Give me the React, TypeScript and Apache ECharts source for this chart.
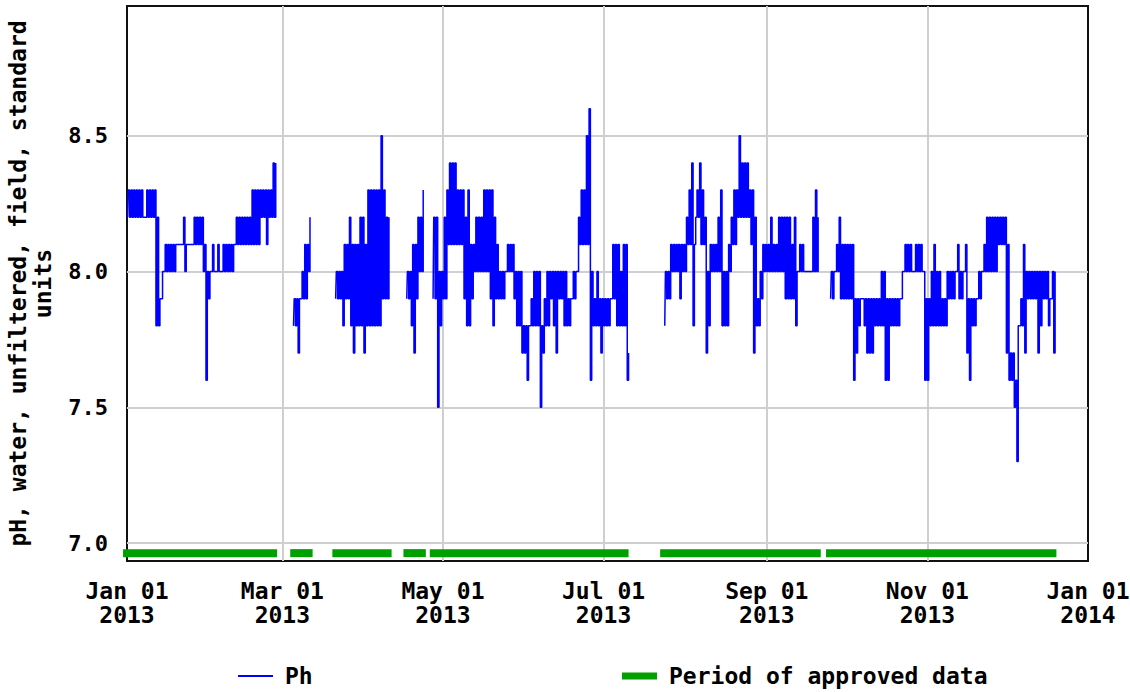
import React, { useEffect, useRef } from 'react';
import * as echarts from 'echarts';

// X axis: days since 2013-01-01
const tickDays = [0, 59, 120, 181, 243, 304, 365];
const tickLabels = ['Jan 01\n2013', 'Mar 01\n2013', 'May 01\n2013', 'Jul 01\n2013', 'Sep 01\n2013', 'Nov 01\n2013', 'Jan 01\n2014'];
const yTicks = [7.0, 7.5, 8.0, 8.5];

// Daily low / high pH readings, one pair per day, per continuous record segment
const janFebStart = 0;
const janFebLow = [8.2, 8.2, 8.2, 8.2, 8.2, 8.2, 8.2, 8.2, 8.2, 8.2, 8.2, 7.8, 7.8, 7.9, 8.0, 8.0, 8.0, 8.0, 8.0, 8.1, 8.1, 8.1, 8.0, 8.1, 8.1, 8.1, 8.1, 8.1, 8.1, 8.0, 7.6, 7.9, 8.0, 8.0, 8.0, 8.0, 8.0, 8.0, 8.0, 8.0, 8.0, 8.1, 8.1, 8.1, 8.1, 8.1, 8.1, 8.1, 8.1, 8.1, 8.1, 8.2, 8.2, 8.1, 8.2, 8.2, 8.2];
const janFebHigh = [8.3, 8.3, 8.3, 8.3, 8.3, 8.3, 8.2, 8.3, 8.3, 8.3, 8.3, 8.2, 7.9, 8.0, 8.1, 8.1, 8.1, 8.1, 8.1, 8.1, 8.1, 8.2, 8.1, 8.1, 8.1, 8.2, 8.2, 8.2, 8.2, 8.1, 8.0, 8.0, 8.1, 8.0, 8.1, 8.0, 8.1, 8.1, 8.1, 8.1, 8.1, 8.2, 8.2, 8.2, 8.2, 8.2, 8.2, 8.3, 8.3, 8.3, 8.3, 8.3, 8.3, 8.3, 8.3, 8.4, 8.4];

const marStart = 63;
const marLow = [7.8, 7.8, 7.7, 7.9, 7.9, 7.9, 8.0];
const marHigh = [7.9, 7.9, 7.9, 8.0, 8.1, 8.1, 8.2];

const marAprStart = 79;
const marAprLow = [7.9, 7.9, 7.9, 7.8, 7.9, 7.9, 7.8, 7.7, 7.8, 7.8, 7.8, 7.7, 7.8, 7.8, 7.8, 7.8, 7.8, 7.8, 7.9, 7.9, 7.9];
const marAprHigh = [8.0, 8.0, 8.0, 8.1, 8.1, 8.2, 8.1, 8.1, 8.1, 8.2, 8.2, 8.1, 8.3, 8.3, 8.3, 8.3, 8.3, 8.5, 8.3, 8.2, 8.2];

const aprStart = 106;
const aprLow = [7.9, 7.9, 7.8, 7.7, 7.9, 8.0, 8.0];
const aprHigh = [8.0, 8.0, 8.1, 8.1, 8.2, 8.2, 8.3];

const mayJulStart = 116;
const mayJulLow = [7.9, 7.9, 7.5, 7.8, 7.9, 7.9, 8.1, 8.1, 8.1, 8.1, 8.1, 8.1, 7.9, 7.8, 7.8, 7.9, 8.0, 8.0, 8.0, 8.0, 8.0, 8.0, 7.9, 7.8, 7.9, 7.9, 7.9, 7.9, 8.0, 8.0, 8.0, 7.9, 7.8, 7.8, 7.7, 7.7, 7.6, 7.8, 7.8, 7.8, 7.8, 7.5, 7.7, 7.8, 7.8, 7.9, 7.8, 7.7, 7.9, 7.9, 7.8, 7.8, 7.8, 7.9, 7.9, 8.0, 8.1, 8.1, 8.1, 8.1, 7.6, 7.8, 7.8, 7.8, 7.7, 7.8, 7.8, 7.8, 7.9, 7.9, 7.8, 7.8, 7.8, 7.8, 7.6];
const mayJulHigh = [8.2, 8.2, 8.0, 8.0, 8.2, 8.3, 8.4, 8.4, 8.4, 8.3, 8.3, 8.3, 8.2, 8.3, 8.1, 8.1, 8.2, 8.2, 8.2, 8.3, 8.3, 8.3, 8.3, 8.2, 8.1, 8.0, 8.0, 8.0, 8.1, 8.1, 8.1, 8.0, 8.0, 8.0, 7.8, 7.8, 7.8, 7.9, 8.0, 8.0, 8.0, 7.8, 7.9, 8.0, 8.0, 8.0, 8.0, 8.0, 8.0, 8.0, 8.0, 7.9, 7.9, 8.0, 8.0, 8.2, 8.3, 8.3, 8.5, 8.6, 8.0, 7.9, 8.0, 7.9, 7.9, 7.9, 7.9, 7.9, 8.1, 8.1, 8.1, 8.0, 8.1, 8.1, 7.7];

const julSepStart = 204;
const julSepLow = [7.8, 7.9, 7.9, 8.0, 8.0, 8.0, 7.9, 8.0, 8.0, 8.1, 8.1, 7.8, 8.2, 8.2, 8.1, 8.1, 7.7, 7.8, 8.0, 8.0, 8.0, 8.0, 7.8, 7.8, 7.8, 8.0, 8.1, 8.1, 8.2, 8.2, 8.2, 8.2, 8.2, 8.1, 7.7, 7.8, 7.8, 7.9, 8.0, 8.0, 8.0, 8.0, 8.0, 8.0, 8.0, 8.0, 7.9, 7.9, 7.9, 7.9, 7.8, 8.0, 8.0, 8.0, 8.0, 8.0, 8.0, 8.0, 8.0];
const julSepHigh = [8.0, 8.0, 8.1, 8.1, 8.1, 8.1, 8.1, 8.1, 8.2, 8.3, 8.4, 8.1, 8.3, 8.4, 8.3, 8.2, 8.0, 8.1, 8.1, 8.1, 8.2, 8.3, 8.0, 8.0, 8.1, 8.2, 8.3, 8.3, 8.5, 8.4, 8.4, 8.4, 8.3, 8.3, 8.2, 7.9, 8.0, 8.1, 8.1, 8.1, 8.2, 8.1, 8.1, 8.2, 8.2, 8.2, 8.2, 8.2, 8.1, 8.2, 8.0, 8.1, 8.1, 8.0, 8.0, 8.0, 8.2, 8.3, 8.2];

const sepDecStart = 267;
const sepDecLow = [7.9, 7.9, 8.0, 8.0, 7.9, 7.9, 7.9, 7.9, 7.9, 7.6, 7.7, 7.8, 7.9, 7.8, 7.7, 7.7, 7.7, 7.8, 7.8, 7.8, 7.8, 7.6, 7.6, 7.8, 7.8, 7.8, 7.8, 7.9, 8.0, 8.0, 8.0, 8.0, 8.0, 8.0, 8.0, 8.0, 7.6, 7.6, 7.8, 7.8, 7.8, 7.8, 7.8, 7.8, 7.8, 7.9, 7.9, 7.9, 8.0, 7.9, 7.9, 8.0, 7.7, 7.6, 7.8, 7.8, 7.9, 7.9, 8.0, 8.0, 8.0, 8.0, 8.0, 8.0, 8.1, 8.1, 8.1, 7.7, 7.6, 7.6, 7.5, 7.3, 7.8, 7.8, 7.7, 7.9, 7.9, 7.9, 7.9, 7.7, 7.8, 7.9, 7.9, 7.8, 7.9, 7.7];
const sepDecHigh = [8.0, 8.0, 8.1, 8.2, 8.1, 8.1, 8.1, 8.1, 8.1, 7.9, 7.9, 7.9, 7.9, 7.9, 7.9, 7.9, 7.9, 7.9, 7.9, 8.0, 8.0, 7.9, 7.9, 7.9, 7.9, 7.9, 7.9, 8.0, 8.1, 8.1, 8.1, 8.0, 8.1, 8.1, 8.1, 8.0, 7.9, 7.9, 8.0, 8.1, 8.0, 8.0, 7.9, 7.9, 8.0, 8.0, 8.0, 8.0, 8.1, 8.0, 8.0, 8.1, 7.9, 7.9, 7.9, 7.9, 8.0, 8.0, 8.1, 8.2, 8.2, 8.2, 8.2, 8.2, 8.2, 8.2, 8.2, 8.1, 7.7, 7.7, 7.6, 7.8, 7.9, 8.1, 8.0, 8.0, 8.0, 8.0, 8.0, 8.0, 8.0, 8.0, 8.0, 7.9, 8.0, 8.0];

// Periods of approved data [startDay, endDay]
const approvedPeriods = [[-1.5, 57], [62, 70.5], [78, 100.5], [105, 113.5], [115, 190.5], [202.5, 263.5], [265.5, 353]];
const approvedLevel = 6.963;

const FONT = 'DejaVu Sans Mono';
const BLUE = '#0000ff';
const GREEN = '#00a000';

export default function App() {
  const ref = useRef<HTMLDivElement>(null);

  useEffect(() => {
    document.body.style.margin = '0';
    if (!ref.current) return;
    const chart = echarts.init(ref.current, null, { renderer: 'svg' });

    const segments = [
      { start: janFebStart, low: janFebLow, high: janFebHigh },
      { start: marStart, low: marLow, high: marHigh },
      { start: marAprStart, low: marAprLow, high: marAprHigh },
      { start: aprStart, low: aprLow, high: aprHigh },
      { start: mayJulStart, low: mayJulLow, high: mayJulHigh },
      { start: julSepStart, low: julSepLow, high: julSepHigh },
      { start: sepDecStart, low: sepDecLow, high: sepDecHigh },
    ];

    const phSeries = segments.map((s) => {
      const data: number[][] = [];
      s.low.forEach((lo, i) => {
        data.push([s.start + i + 0.25, lo]);
        data.push([s.start + i + 0.75, s.high[i]]);
      });
      return {
        name: 'Ph',
        type: 'line',
        data,
        step: 'middle',
        symbol: 'none',
        showSymbol: false,
        z: 10,
        color: BLUE,
        lineStyle: { color: BLUE, width: 1.5 },
        itemStyle: { color: BLUE },
      };
    });

    const approvedSeries = approvedPeriods.map(([a, b]) => ({
      name: 'Period of approved data',
      type: 'line',
      data: [[a, approvedLevel], [b, approvedLevel]],
      symbol: 'none',
      showSymbol: false,
      clip: false,
      z: 10,
      color: GREEN,
      lineStyle: { color: GREEN, width: 8, cap: 'butt' },
      itemStyle: { color: GREEN },
    }));

    const gridLines = [
      ...tickDays.slice(1, -1).map((d) => ({ xAxis: d })),
      ...yTicks.map((v) => ({ yAxis: v })),
    ];

    const textBase = { fontFamily: FONT, fontWeight: 'bold' as const, color: '#000' };

    chart.setOption({
      animation: false,
      backgroundColor: '#fff',
      grid: {
        left: 127,
        top: 6,
        width: 961,
        height: 555,
        outerBoundsMode: 'none',
        containLabel: false,
        show: true,
        borderColor: '#111',
        borderWidth: 2,
        backgroundColor: 'transparent',
      },
      xAxis: {
        type: 'value',
        min: 0,
        max: 365,
        axisLine: { show: false },
        axisTick: { show: false },
        splitLine: { show: false },
        axisLabel: {
          ...textBase,
          customValues: tickDays,
          fontSize: 23,
          lineHeight: 24,
          margin: 18,
          formatter: (v: number) => {
            const i = tickDays.indexOf(Math.round(v));
            return i >= 0 ? tickLabels[i] : '';
          },
        },
      },
      yAxis: {
        type: 'value',
        min: 6.934,
        max: 8.978,
        axisLine: { show: false },
        axisTick: { show: false },
        splitLine: { show: false },
        axisLabel: {
          ...textBase,
          customValues: yTicks,
          fontSize: 22,
          margin: 19,
          formatter: (v: number) => v.toFixed(1),
        },
        name: 'pH, water, unfiltered, field, standard\nunits',
        nameLocation: 'middle',
        nameRotate: 90,
        nameGap: 72,
        nameTextStyle: { ...textBase, fontSize: 23, lineHeight: 25 },
      },
      legend: [
        {
          left: 238,
          top: 664,
          padding: 0,
          itemWidth: 35,
          itemHeight: 2,
          icon: 'rect',
          data: ['Ph'],
          textStyle: { ...textBase, fontSize: 23, lineHeight: 24, padding: [0, 0, 0, 7] },
        },
        {
          left: 622,
          top: 664,
          padding: 0,
          itemWidth: 35,
          itemHeight: 7,
          icon: 'rect',
          data: ['Period of approved data'],
          textStyle: { ...textBase, fontSize: 23, lineHeight: 24, padding: [0, 0, 0, 7] },
        },
      ],
      series: [
        {
          name: 'gridHelper',
          type: 'line',
          data: [[0, 7]],
          symbol: 'none',
          lineStyle: { opacity: 0 },
          silent: true,
          z: 1,
          markLine: {
            silent: true,
            symbol: ['none', 'none'],
            label: { show: false },
            lineStyle: { type: 'solid', color: '#cfcfcf', width: 2 },
            emphasis: { disabled: true },
            data: gridLines,
          },
        },
        ...phSeries,
        ...approvedSeries,
      ],
    });

    return () => chart.dispose();
  }, []);

  return <div ref={ref} style={{ width: 1130, height: 692 }} />;
}
